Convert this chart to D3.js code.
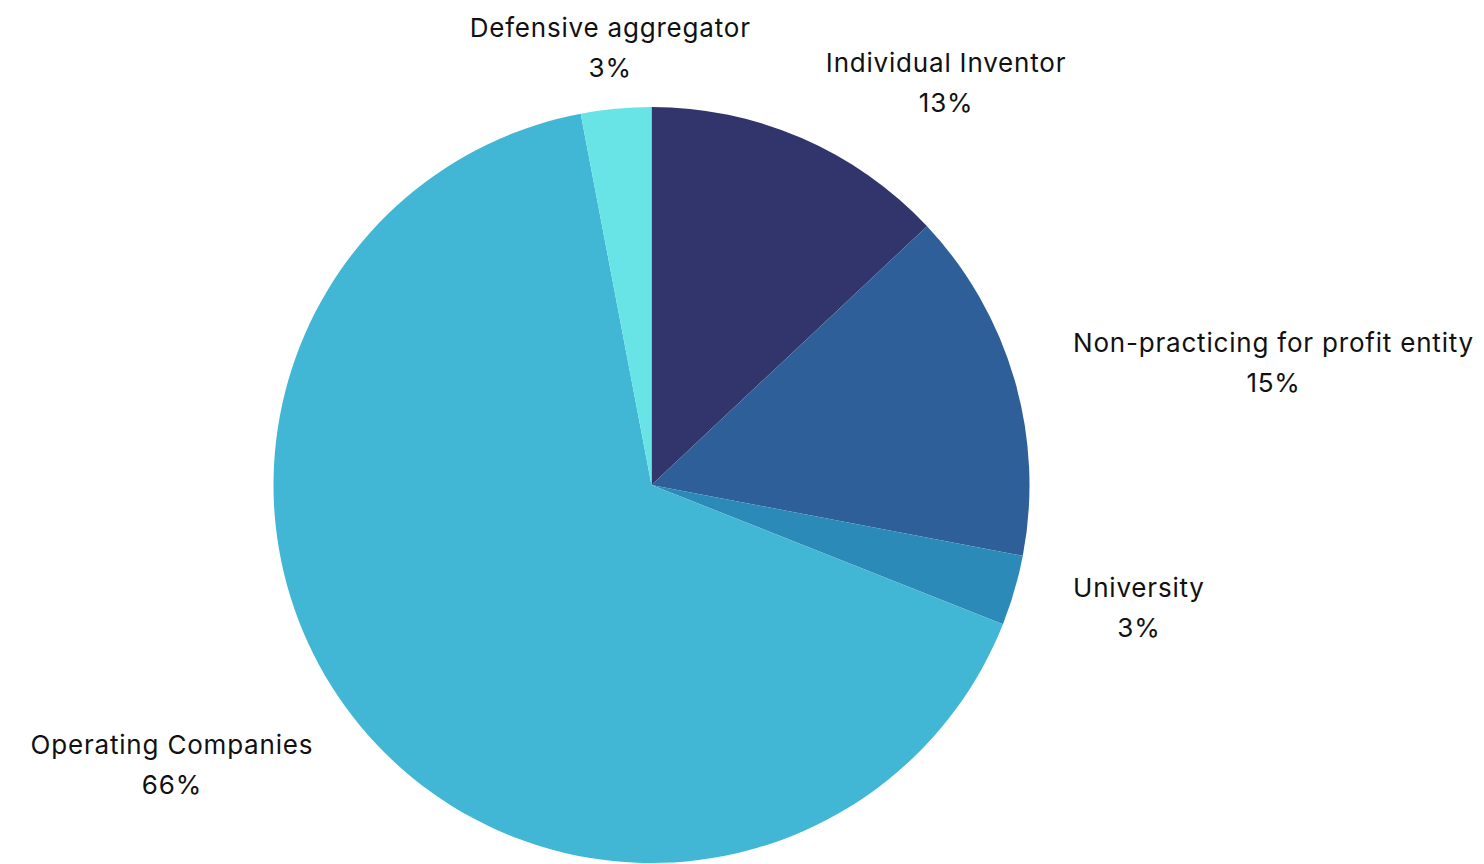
<!DOCTYPE html>
<html>
<head>
<meta charset="utf-8">
<script src="https://cdn.jsdelivr.net/npm/d3@7"></script>
<style>
  html, body { margin: 0; padding: 0; background: #fff; }
  svg text { font-family: Inter, "Open Sans", sans-serif; font-size: 26px; letter-spacing: 0.8px; fill: #111; }
</style>
</head>
<body>
<div class="chart"></div>
<script>
const width = 1484;
const height = 864;

// data, clockwise from 12 o'clock
const categories = ['Individual Inventor', 'Non-practicing for profit entity', 'University', 'Operating Companies', 'Defensive aggregator'];
const shares = [13, 15, 3, 66, 3];
const colors = ['#31356b', '#2e5f98', '#2c8ab9', '#42b7d5', '#68e4e7'];

const cx = 651.5, cy = 485, radius = 378;
const labelRadius = radius + 61;

const svg = d3.select('.chart').append('svg')
    .attr('width', width)
    .attr('height', height)
    .attr('viewBox', `0 0 ${width} ${height}`);

const chart = svg.append('g')
    .attr('transform', `translate(${cx}, ${cy})`);

const rows = categories.map((c, i) => ({ name: c, value: shares[i], color: colors[i] }));

const pie = d3.pie().sort(null).value(d => d.value);
const arc = d3.arc().innerRadius(0).outerRadius(radius);
const slices = pie(rows);

chart.selectAll('path.slice')
    .data(slices)
    .enter()
    .append('path')
    .attr('class', 'slice')
    .attr('d', arc)
    .attr('fill', d => d.data.color);

/* labels: two centered lines, block pushed out from the slice mid angle */
const labels = chart.selectAll('g.label')
    .data(slices)
    .enter()
    .append('g')
    .attr('class', 'label');

labels.each(function (d) {
    const g = d3.select(this);
    const a = (d.startAngle + d.endAngle) / 2;
    const px = labelRadius * Math.sin(a);
    const py = -labelRadius * Math.cos(a);

    const t1 = g.append('text').attr('text-anchor', 'middle').text(d.data.name);
    const t2 = g.append('text').attr('text-anchor', 'middle').text(d.data.value + '%');
    const w = Math.max(t1.node().getComputedTextLength(), t2.node().getComputedTextLength());

    let bx = px;
    if (Math.sin(a) > 0.3) bx = px + w / 2;
    else if (Math.sin(a) < -0.3) bx = px - w / 2;

    const base = py - 10.5;
    t1.attr('x', bx).attr('y', base);
    t2.attr('x', bx).attr('y', base + 40);
});
</script>
</body>
</html>
